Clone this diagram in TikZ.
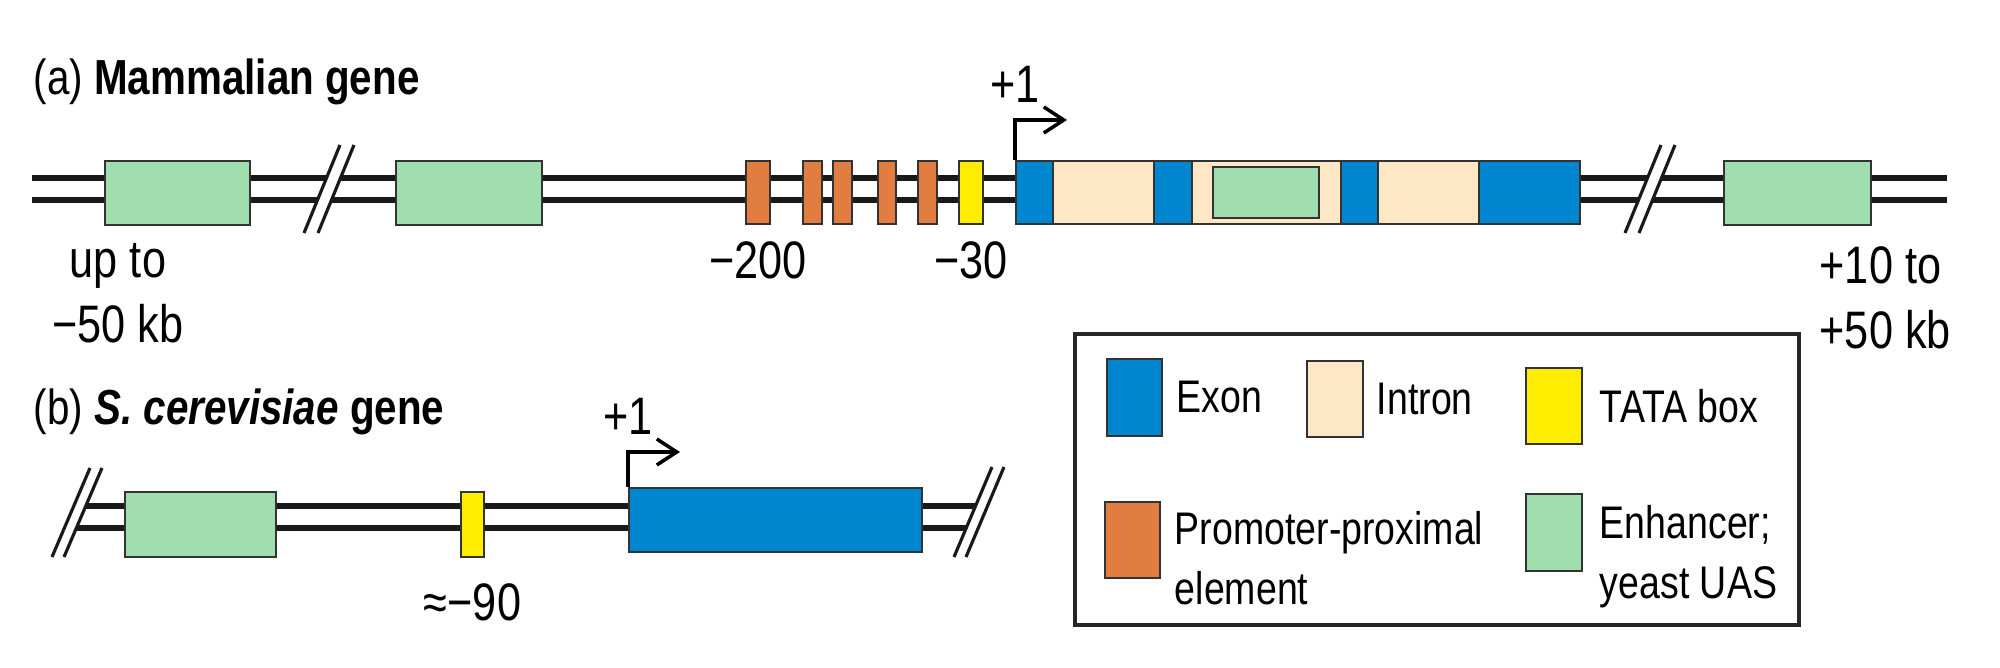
\documentclass[tikz,border=0pt]{standalone}
\usepackage{fontspec}
\setmainfont{Liberation Sans}[FakeStretch=0.82]
\usetikzlibrary{positioning, fit, arrows.meta}

\definecolor{exonblue}{HTML}{0085CF}
\definecolor{intronbeige}{HTML}{FDE7C5}
\definecolor{tatayellow}{HTML}{FFED00}
\definecolor{proxorange}{HTML}{E17D40}
\definecolor{enhgreen}{HTML}{A0DEB0}

\tikzset{
  elem/.style={draw=black!80, line width=0.7pt, inner sep=0pt},
  exon/.style={elem, fill=exonblue},
  intron/.style={elem, fill=intronbeige},
  tata/.style={elem, fill=tatayellow},
  prox/.style={elem, fill=proxorange},
  enh/.style={elem, fill=enhgreen},
  dna/.style={line width=1.5pt, black!90},
  brk/.style={line width=0.9pt, black!90},
  tss/.style={line width=1pt, -{Straight Barb[length=2mm, width=2.6mm]}},
  keyframe/.style={line width=1pt, draw=black!85},
  title/.style={font=\fontsize{14}{17}\selectfont, inner sep=0pt},
  poslbl/.style={font=\fontsize{15}{18.5}\selectfont, inner sep=0pt},
  keytxt/.style={font=\fontsize{13}{17}\selectfont, inner sep=0pt, align=left},
}

\begin{document}
\begin{tikzpicture}[x=0.01cm, y=-0.01cm]
  \useasboundingbox (0,0) rectangle (2000,668);

  % (a) mammalian gene
  \node[title, anchor=base west] (tita) at (33,95) {(a) \textbf{Mammalian gene}};
  \coordinate (aL1) at (32,178);  \coordinate (aR1) at (1947,178);
  \coordinate (aL2) at (32,200);  \coordinate (aR2) at (1947,200);
  \draw[dna] (aL1) -- (aR1) (aL2) -- (aR2);
  % breaks
  \fill[white] (304,233) -- (340,145) -- (354,145) -- (318,233) -- cycle;
  \draw[brk] (304,233) -- (340,145) (318,233) -- (354,145);
  \fill[white] (1625,233) -- (1661,145) -- (1675,145) -- (1639,233) -- cycle;
  \draw[brk] (1625,233) -- (1661,145) (1639,233) -- (1675,145);

  \node[enh, fit={(105,161) (250,225)}] (enha1) {};
  \node[enh, fit={(396,161) (542,225)}] (enha2) {};
  \node[prox, fit={(746,161) (770,224)}] (pp1) {};
  \node[prox, fit={(803,161) (822,224)}] (pp2) {};
  \node[prox, fit={(833,161) (852,224)}] (pp3) {};
  \node[prox, fit={(878,161) (896,224)}] (pp4) {};
  \node[prox, fit={(918,161) (937,224)}] (pp5) {};
  \node[tata, fit={(959,161) (983,224)}] (tataa) {};
  \node[exon, fit={(1016,161) (1053,224)}] (ex1) {};
  \node[intron, fit={(1053,161) (1154,224)}] (in1) {};
  \node[exon, fit={(1154,161) (1192,224)}] (ex2) {};
  \node[intron, fit={(1192,161) (1341,224)}] (in2) {};
  \node[enh, fit={(1213,167) (1319,218)}] (enhin) {};
  \node[exon, fit={(1341,161) (1378,224)}] (ex3) {};
  \node[intron, fit={(1378,161) (1479,224)}] (in3) {};
  \node[exon, fit={(1479,161) (1580,224)}] (ex4) {};
  \node[enh, fit={(1724,161) (1871,225)}] (enha3) {};

  \coordinate (tssa) at (1067,120);
  \coordinate (tssacorner) at (ex1.north west |- tssa);
  \draw[tss] (ex1.north west) |- (tssa);
  \node[poslbl, above=0.17cm of tssacorner] (plusa) {+1};
  \node[poslbl, below=0.16cm of pp1] (m200) {−200};
  \node[poslbl, below=0.16cm of tataa] (m30) {−30};
  \node[poslbl, align=center, anchor=north] (upa) at (118,243) {up to\\−50 kb};
  \node[poslbl, align=left, anchor=north west] (downa) at (1819,246) {+10 to\\+50 kb};

  % (b) yeast gene
  \node[title, anchor=base west] (titb) at (33,425) {(b) \textbf{\textit{S. cerevisiae} gene}};
  \coordinate (bL1) at (85,506);   \coordinate (bR1) at (975,506);
  \coordinate (bL2) at (76,528);   \coordinate (bR2) at (966,528);
  \draw[dna] (bL1) -- (bR1) (bL2) -- (bR2);
  \draw[brk] (52,557) -- (90,468) (64,557) -- (102,468);
  \draw[brk] (954,557) -- (992,467) (966,557) -- (1004,467);

  \node[enh, fit={(125,492) (276,557)}] (enhb) {};
  \node[tata, fit={(461,492) (484,557)}] (tatab) {};
  \node[exon, fit={(629,488) (922,552)}] (exb) {};

  \coordinate (tssb) at (680,452);
  \coordinate (tssbcorner) at (exb.north west |- tssb);
  \draw[tss] (exb.north west) |- (tssb);
  \node[poslbl, above=0.17cm of tssbcorner] (plusb) {+1};
  \node[poslbl, below=0.25cm of tatab] (m90) {≈−90};

  % key
  \draw[keyframe] (1075,334) rectangle (1799,625);
  \node[exon, fit={(1107,359) (1162,436)}] (kexon) {};
  \node[keytxt, right=0.13cm of kexon] (texon) {Exon};
  \node[intron, fit={(1307,361) (1363,437)}] (kintron) {};
  \node[keytxt, right=0.12cm of kintron] (tintron) {Intron};
  \node[tata, fit={(1526,368) (1582,444)}] (ktata) {};
  \node[keytxt, right=0.16cm of ktata] (ttata) {TATA box};
  \node[prox, fit={(1105,502) (1160,578)}] (kprox) {};
  \node[keytxt, right=0.13cm of kprox.north east, anchor=north west, yshift=-0.1cm] (tprox) {Promoter-proximal\\element};
  \node[enh, fit={(1526,494) (1582,571)}] (kenh) {};
  \node[keytxt, right=0.16cm of kenh.north east, anchor=north west, yshift=-0.12cm] (tenh) {Enhancer;\\yeast UAS};
\end{tikzpicture}
\end{document}
